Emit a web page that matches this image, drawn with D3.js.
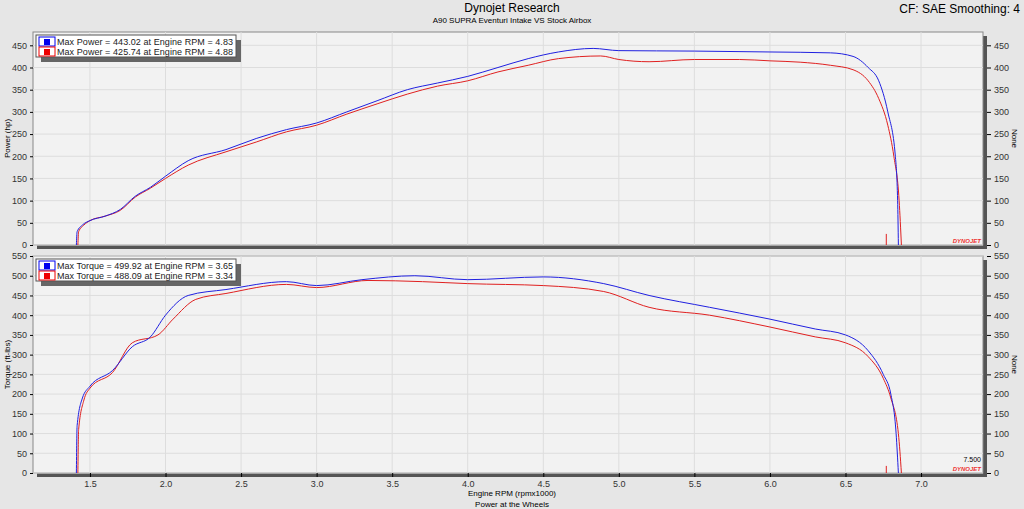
<!DOCTYPE html><html><head><meta charset="utf-8"><script src="https://cdn.jsdelivr.net/npm/d3@7"></script>
<style>body{margin:0;background:#e6e6e6;font-family:"Liberation Sans",Arial,sans-serif}</style></head><body><svg id="c" width="1024" height="509"></svg><script>
const pwrBlue=[[1.41,0],[1.415,30],[1.45,45],[1.5,55],[1.6,65],[1.7,80],[1.8,110],[1.9,130],[2.0,155],[2.15,190],[2.4,215],[2.6,240],[2.8,260],[3.0,275],[3.2,300],[3.4,325],[3.6,350],[3.8,365],[4.0,380],[4.2,400],[4.4,420],[4.6,435],[4.83,443],[5.0,438],[5.5,437],[6.0,435],[6.4,433],[6.55,425],[6.65,400],[6.72,370],[6.78,300],[6.83,200],[6.845,100],[6.85,0]];
const pwrRed=[[1.42,0],[1.425,30],[1.46,45],[1.5,55],[1.6,65],[1.7,78],[1.8,108],[1.9,128],[2.0,150],[2.15,180],[2.4,210],[2.6,232],[2.8,255],[3.0,270],[3.2,295],[3.4,318],[3.6,340],[3.8,358],[4.0,370],[4.2,390],[4.4,405],[4.6,420],[4.88,426],[5.0,418],[5.2,413],[5.5,418],[5.8,418],[6.0,415],[6.2,412],[6.4,405],[6.55,395],[6.65,370],[6.72,330],[6.78,270],[6.82,200],[6.855,100],[6.87,0]];
const trqBlue=[[1.41,0],[1.415,120],[1.45,190],[1.5,220],[1.65,260],[1.78,320],[1.9,345],[2.0,400],[2.15,450],[2.4,465],[2.8,485],[3.0,475],[3.3,490],[3.65,500],[4.0,490],[4.5,497],[4.9,480],[5.2,450],[5.6,420],[6.0,390],[6.3,365],[6.5,350],[6.65,310],[6.75,250],[6.8,200],[6.835,100],[6.85,0]];
const trqRed=[[1.42,0],[1.425,110],[1.46,185],[1.5,215],[1.65,255],[1.78,330],[1.95,350],[2.05,390],[2.2,440],[2.4,455],[2.8,478],[3.0,470],[3.34,488],[3.7,485],[4.0,480],[4.5,475],[4.9,460],[5.2,420],[5.6,400],[6.0,370],[6.3,345],[6.5,330],[6.65,295],[6.75,240],[6.8,190],[6.85,100],[6.87,0]];
const xTicks=[1.5,2.0,2.5,3.0,3.5,4.0,4.5,5.0,5.5,6.0,6.5,7.0];
const pTicks=[0,50,100,150,200,250,300,350,400,450];
const tTicks=[0,50,100,150,200,250,300,350,400,450,500,550];
const svg=d3.select("#c");
const x=d3.scaleLinear().domain([1.123,7.41]).range([33,983]);
function panel(y0,y1,dom,ticks,b,r,spike,lbl,leg,showX){
 const y=d3.scaleLinear().domain(dom).range([y1,y0]);
 svg.append("rect").attr("x",37).attr("y",y0+4).attr("width",950).attr("height",y1-y0).attr("fill","#555");
 svg.append("rect").attr("x",33).attr("y",y0).attr("width",950).attr("height",y1-y0).attr("fill","#f2f2f2").attr("stroke","#888");
 const g=svg.append("g");
 xTicks.forEach(t=>g.append("line").attr("x1",x(t)).attr("x2",x(t)).attr("y1",y0).attr("y2",y1).attr("stroke","#ddd"));
 ticks.forEach(t=>g.append("line").attr("x1",33).attr("x2",983).attr("y1",y(t)).attr("y2",y(t)).attr("stroke","#ddd"));
 const la=svg.append("g").attr("transform","translate(33,0)").call(d3.axisLeft(y).tickValues(ticks).tickSize(3).tickSizeOuter(0));
 const ra=svg.append("g").attr("transform","translate(987,0)").call(d3.axisRight(y).tickValues(ticks).tickSize(4).tickSizeOuter(0));
 [la,ra].forEach(a=>{a.select(".domain").remove();a.selectAll("text").attr("font-size",9).attr("fill","#333");});
 const ln=d3.line().x(d=>x(d[0])).y(d=>y(d[1])).curve(d3.curveMonotoneX);
 svg.append("path").datum(r).attr("d",ln).attr("fill","none").attr("stroke","#e02020").attr("stroke-width",1);
 svg.append("path").datum(b).attr("d",ln).attr("fill","none").attr("stroke","#2020e0").attr("stroke-width",1);
 svg.append("line").attr("x1",x(6.77)).attr("x2",x(6.77)).attr("y1",y(0)).attr("y2",y(spike)).attr("stroke","#e02020");
 svg.append("text").attr("x",10).attr("y",(y0+y1)/2).attr("transform",`rotate(-90,10,${(y0+y1)/2})`).attr("text-anchor","middle").attr("font-size",8).text(lbl);
 svg.append("text").attr("x",1012).attr("y",(y0+y1)/2).attr("transform",`rotate(90,1012,${(y0+y1)/2})`).attr("text-anchor","middle").attr("font-size",8).text("None");
 svg.append("text").attr("x",981).attr("y",y1-2).attr("text-anchor","end").attr("font-size",6).attr("font-style","italic").attr("font-weight","bold").attr("fill","#e33").text("DYNOJET");
 const lx=36,ly=y0+3,lw=200;
 svg.append("rect").attr("x",lx+5).attr("y",ly+5).attr("width",lw).attr("height",22).attr("fill","#666");
 svg.append("rect").attr("x",lx).attr("y",ly).attr("width",lw).attr("height",22).attr("fill","#fff").attr("stroke","#555");
 leg.forEach((s,i)=>{const c=i?"#e00":"#00e";
  svg.append("rect").attr("x",lx+3).attr("y",ly+2+i*10).attr("width",16).attr("height",9).attr("fill","#fff").attr("stroke",c);
  svg.append("rect").attr("x",lx+8).attr("y",ly+4+i*10).attr("width",6).attr("height",6).attr("fill",c);
  svg.append("text").attr("x",lx+21).attr("y",ly+10+i*10).attr("font-size",9).attr("textLength",176).attr("fill","#222").text(s);});
 if(showX){const xa=svg.append("g").attr("transform",`translate(0,${y1})`).call(d3.axisBottom(x).tickValues(xTicks).tickFormat(d3.format(".1f")).tickSize(4).tickSizeOuter(0));
  xa.select(".domain").remove();xa.selectAll("text").attr("font-size",9).attr("fill","#333").attr("dy","0.75em");}
}
panel(32,245,[0,480],pTicks,pwrBlue,pwrRed,25,"Power (hp)",["Max Power = 443.02 at Engine RPM = 4.83","Max Power = 425.74 at Engine RPM = 4.88"],false);
panel(256,473,[0,550],tTicks,trqBlue,trqRed,18,"Torque (ft-lbs)",["Max Torque = 499.92 at Engine RPM = 3.65","Max Torque = 488.09 at Engine RPM = 3.34"],true);
svg.append("text").attr("x",512).attr("y",12).attr("text-anchor","middle").attr("font-size",12).text("Dynojet Research");
svg.append("text").attr("x",512).attr("y",23).attr("text-anchor","middle").attr("font-size",8).text("A90 SUPRA Eventuri Intake VS Stock Airbox");
svg.append("text").attr("x",1020).attr("y",13).attr("text-anchor","end").attr("font-size",12).text("CF: SAE Smoothing: 4");
svg.append("text").attr("x",512).attr("y",496).attr("text-anchor","middle").attr("font-size",8).text("Engine RPM (rpmx1000)");
svg.append("text").attr("x",512).attr("y",507).attr("text-anchor","middle").attr("font-size",8).text("Power at the Wheels");
svg.append("text").attr("x",981).attr("y",462).attr("text-anchor","end").attr("font-size",7).text("7.500");
</script></body></html>
